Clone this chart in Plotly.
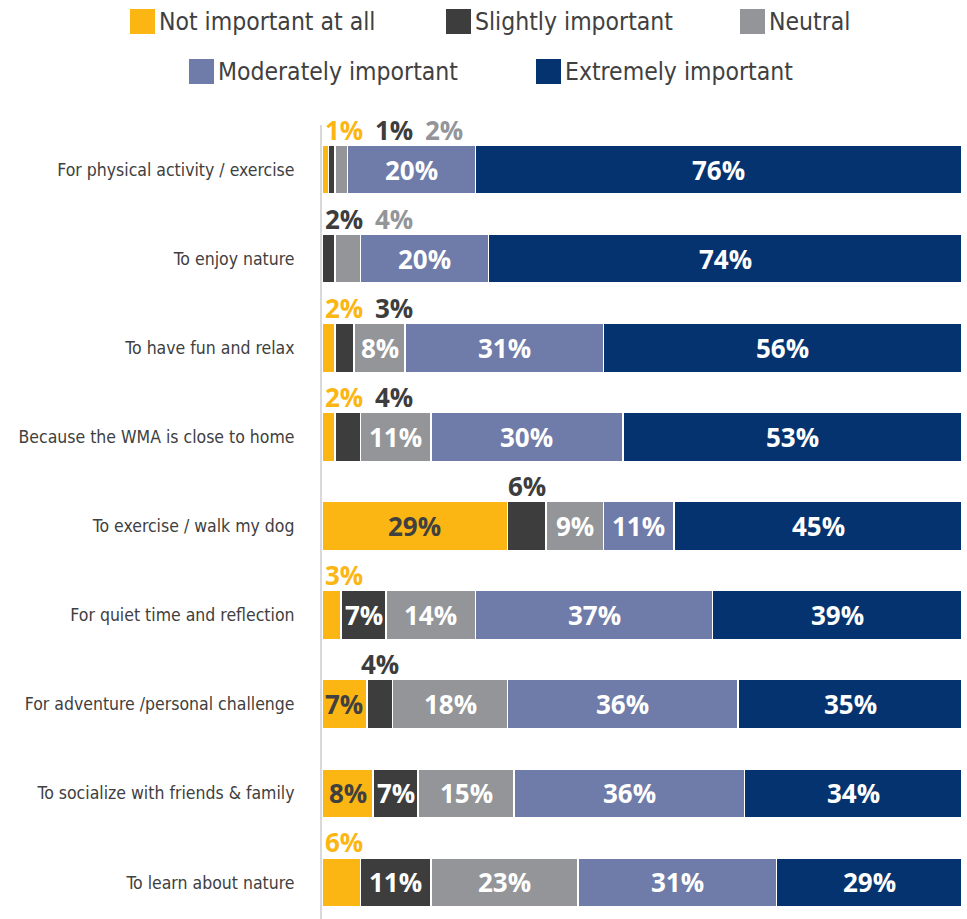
import plotly.graph_objects as go

# Survey: reasons for visiting the WMA, share of respondents by importance
categories = [
    "For physical activity / exercise",
    "To enjoy nature",
    "To have fun and relax",
    "Because the WMA is close to home",
    "To exercise / walk my dog",
    "For quiet time and reflection",
    "For adventure /personal challenge",
    "To socialize with friends & family",
    "To learn about nature",
]
levels = [
    "Not important at all",
    "Slightly important",
    "Neutral",
    "Moderately important",
    "Extremely important",
]
not_important = [1, 0, 2, 2, 29, 3, 7, 8, 6]
slightly_important = [1, 2, 3, 4, 6, 7, 4, 7, 11]
neutral = [2, 4, 8, 11, 9, 14, 18, 15, 23]
moderately_important = [20, 20, 31, 30, 11, 37, 36, 36, 31]
extremely_important = [76, 74, 56, 53, 45, 39, 35, 34, 29]

series = [not_important, slightly_important, neutral,
          moderately_important, extremely_important]
colors = ["#FCB614", "#3D3D3D", "#939598", "#6F7BA8", "#05336F"]
inside_text = ["#404040", "white", "white", "white", "white"]
text_grey = "#404040"
narrow = "DejaVu Sans Condensed, Roboto Condensed, Roboto, sans-serif"

W, H = 967, 919
L, R, T, B = 322, 5, 125, 0
PW, PH = W - L - R, H - T - B
px_per_pct = PW / 100.0


def paper_x(px):
    return (px - L) / PW


def paper_y(py):
    return (H - B - py) / PH


fig = go.Figure()
for name, vals, col in zip(levels, series, colors):
    fig.add_trace(go.Bar(
        y=categories, x=vals, name=name, orientation="h",
        marker=dict(color=col, line=dict(color="white", width=1.5)),
        hoverinfo="x+name", showlegend=False,
    ))

value_font = dict(family="Open Sans", size=26, weight=700)
annotations = []
label_w = 40
for i, cat in enumerate(categories):
    cum = 0
    left_min = L + 2
    for j, vals in enumerate(series):
        v = vals[i]
        if v >= 7:
            annotations.append(dict(
                x=cum + v / 2, y=cat, xref="x", yref="y", text=f"{v}%",
                showarrow=False, font=dict(value_font, color=inside_text[j]),
            ))
        elif v > 0:
            centre = L + (cum + v / 2) * px_per_pct
            left = max(centre - label_w / 2, left_min)
            left_min = left + label_w + 10
            annotations.append(dict(
                x=(left + label_w / 2 - L) / px_per_pct, y=cat,
                xref="x", yref="y", yshift=40, text=f"{v}%",
                showarrow=False, font=dict(value_font, color=colors[j]),
            ))
        cum += v

# Legend: two centred rows of swatches and names
legend_rows = [
    [(0, 130), (1, 446), (2, 740)],
    [(3, 189), (4, 536)],
]
row_centres = [21.5, 71.5]
shapes = []
for row, yc in zip(legend_rows, row_centres):
    for idx, x0 in row:
        shapes.append(dict(
            type="rect", xref="paper", yref="paper",
            x0=paper_x(x0), x1=paper_x(x0 + 25),
            y0=paper_y(yc + 12.5), y1=paper_y(yc - 12.5),
            fillcolor=colors[idx], line=dict(width=0),
        ))
        annotations.append(dict(
            x=paper_x(x0 + 27), y=paper_y(yc), xref="paper", yref="paper",
            xanchor="left", yanchor="middle", text=levels[idx],
            showarrow=False,
            font=dict(family=narrow, size=24.5, color=text_grey),
        ))

fig.update_layout(
    width=W, height=H,
    margin=dict(l=L, r=R, t=T, b=B, pad=0, autoexpand=False),
    paper_bgcolor="white", plot_bgcolor="white",
    barmode="stack", bargap=0.45,
    annotations=annotations, shapes=shapes,
    xaxis=dict(range=[0, 100], visible=False, fixedrange=True,
               automargin=False),
    yaxis=dict(
        categoryorder="array", categoryarray=categories,
        range=[8.41, -0.5], showline=True, linecolor="#D9D9D9",
        linewidth=2, showgrid=False, zeroline=False, automargin=False,
        ticks="outside", ticklen=22, tickcolor="rgba(0,0,0,0)",
        tickfont=dict(family=narrow, size=17.5, color=text_grey),
        fixedrange=True,
    ),
)

fig.write_html("out.html")
